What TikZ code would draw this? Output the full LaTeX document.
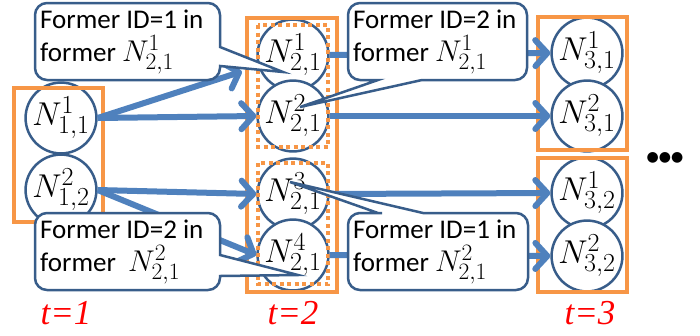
\RequirePackage{fix-cm}
\documentclass[tikz,border=0pt]{standalone}
\usepackage[no-math]{fontspec}
\newfontfamily\calibri{Carlito}
\newfontfamily\timesfont{Liberation Serif}
\newfontfamily\symbolfont{DejaVu Sans}
\usetikzlibrary{arrows.meta,calc}

% larger script sizes for the particle labels
\DeclareMathSizes{33}{33}{26}{19}
\DeclareMathSizes{30}{30}{23.5}{17}

% particle name inside a callout line
\newcommand\particlename[1]{{\fontsize{30}{32}\selectfont$#1$}}

\definecolor{stageorange}{HTML}{F79646}
\definecolor{flowblue}{HTML}{4F81BD}
\definecolor{edgeblue}{HTML}{385D8A}

\tikzset{
  stage/.style={draw=stageorange, line width=3.5pt},
  substage/.style={draw=stageorange, line width=3.5pt, dash pattern=on 4pt off 3.5pt},
  particle/.style={circle, draw=edgeblue, line width=2.5pt, fill=white,
    minimum size=62pt, inner sep=0pt, font=\fontsize{33}{33}\selectfont},
  flow/.style={draw=flowblue, line width=6pt,
    -{Straight Barb[length=12pt,width=26pt,round]}},
  noteframe/.style={draw=edgeblue, line width=2.5pt, fill=white},
  notetext/.style={anchor=west, align=left, inner sep=0pt,
    font=\calibri\fontsize{27}{33}\selectfont},
  timelabel/.style={text=red, inner sep=0pt,
    font=\timesfont\itshape\fontsize{35}{35}\selectfont},
}

\begin{document}
\begin{tikzpicture}[x=1pt,y=-1pt]
\useasboundingbox (0,0) rectangle (700,335);

% particles of each time step
\node[particle] (p11a) at (61,118) {$N^1_{1,1}$};
\node[particle] (p12b) at (61,190) {$N^2_{1,2}$};

\node[particle] (p21a) at (293,55)  {$N^1_{2,1}$};
\node[particle] (p21b) at (293,116) {$N^2_{2,1}$};
\node[particle] (p21c) at (293,194) {$N^3_{2,1}$};
\node[particle] (p21d) at (293,255) {$N^4_{2,1}$};

\node[particle] (p31a) at (587,53)  {$N^1_{3,1}$};
\node[particle] (p31b) at (587,116) {$N^2_{3,1}$};
\node[particle] (p32a) at (587,193) {$N^1_{3,2}$};
\node[particle] (p32b) at (587,256) {$N^2_{3,2}$};

% grouping frames
\draw[stage] (14,88) rectangle (103,222);
\draw[stage] (247,18) rectangle (337,292);
\draw[substage] (258,25) rectangle (328,147);
\draw[substage] (258,163) rectangle (328,284);
\draw[stage] (538,17) rectangle (627,150);
\draw[stage] (538,158) rectangle (627,292);

% resampling flows
\draw[flow, shorten >=17pt] (p11a.east) -- (p21a);
\draw[flow] (p11a.east) -- (p21b.west);
\draw[flow] (p12b.east) -- (p21c.west);
\draw[flow] (p12b.east) -- (p21d.west);

\draw[flow] (p21a.east) -- (p31a.west);
\draw[flow] (p21b.east) -- (p31b.west);
\draw[flow] (p21c.east) -- (p32a.west);
\draw[flow] (p21d.east) -- (p32b.west);

% callout tips
\coordinate (tipA) at ($(p21a)+(-10,17)$);
\coordinate (tipB) at ($(p21b)+(7,-9)$);
\coordinate (tipC) at ($(p21d)+(5,20)$);
\coordinate (tipD) at ($(p21c)+(-3,-12)$);

% callout frames
\draw[noteframe] (35,40) [rounded corners=12pt] -- (35,3) -- (220,3) -- (220,30)
  [sharp corners] -- (220,47) -- (tipA) -- (220,66) -- (220,67)
  [rounded corners=12pt] -- (220,80) -- (35,80) -- cycle;
\node[notetext] (tA) at (40,42) {Former ID=1 in\\former \particlename{N^1_{2,1}}};

\draw[noteframe] (348,40) [rounded corners=12pt] -- (348,3) -- (527,3) -- (527,80)
  -- (440,80) [sharp corners] -- (422,80) -- (tipB) -- (378,80) -- (370,80)
  [rounded corners=12pt] -- (348,80) -- cycle;
\node[notetext] (tB) at (353,42) {Former ID=2 in\\former \particlename{N^1_{2,1}}};

\draw[noteframe] (35,250) [rounded corners=12pt] -- (35,213) -- (220,213) -- (220,240)
  [sharp corners] -- (220,255) -- (tipC) -- (220,276) -- (220,277)
  [rounded corners=12pt] -- (220,290) -- (35,290) -- cycle;
\node[notetext] (tC) at (40,252) {Former ID=2 in\\former\ \ \particlename{N^2_{2,1}}};

\draw[noteframe] (348,250) [rounded corners=12pt] -- (348,213) -- (370,213)
  [sharp corners] -- (378,213) -- (tipD) -- (423,213) -- (440,213)
  [rounded corners=12pt] -- (528,213) -- (528,290) -- (348,290) -- cycle;
\node[notetext] (tD) at (353,252) {Former ID=1 in\\former \particlename{N^2_{2,1}}};

% time steps
\node[timelabel] (t1) at (66,313) {t=1};
\node[timelabel] (t2) at (293,313) {t=2};
\node[timelabel] (t3) at (590,313) {t=3};

\node[inner sep=0pt, font=\symbolfont\fontsize{14}{14}\selectfont] (more) at (665,158) {●●●};
\end{tikzpicture}
\end{document}
